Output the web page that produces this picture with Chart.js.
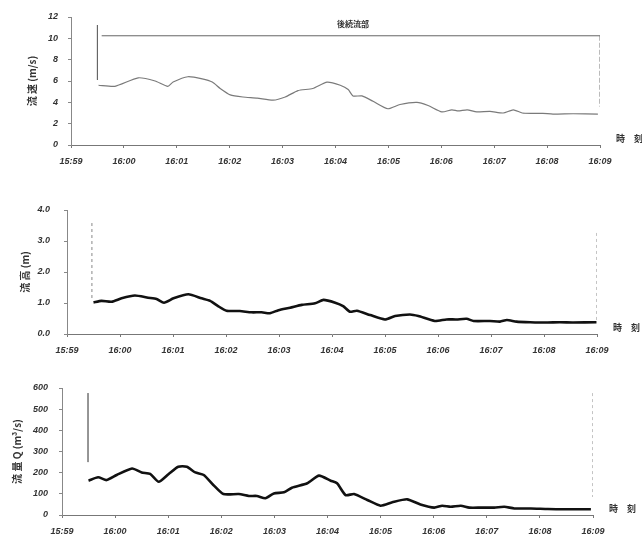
<!DOCTYPE html>
<html><head><meta charset="utf-8">
<script src="https://cdn.jsdelivr.net/npm/chart.js@4.4.1/dist/chart.umd.min.js"></script>
<style>
html,body{margin:0;padding:0;background:#fff;overflow:hidden;width:642px;height:538px}
.p{position:absolute;left:0;width:642px}
</style></head><body>
<div class="p" style="top:0;height:168px"><canvas id="c1"></canvas></div>
<div class="p" style="top:190px;height:167px"><canvas id="c2"></canvas></div>
<div class="p" style="top:368px;height:170px"><canvas id="c3"></canvas></div>
<script>
// x values are minutes after 15:59
const xTickLabels = ['15:59','16:00','16:01','16:02','16:03','16:04','16:05','16:06','16:07','16:08','16:09'];

const velTimes  = [0.52,0.83,1.27,1.59,1.83,1.93,2.21,2.48,2.67,2.82,3.01,3.25,3.52,3.82,4.05,4.29,4.57,4.84,5.09,5.24,5.33,5.50,5.71,5.99,6.22,6.54,6.75,7.01,7.20,7.32,7.49,7.67,7.92,8.17,8.36,8.53,8.73,8.92,9.11,9.49,9.96];
const velValues = [5.6,5.5,6.3,6.0,5.5,5.9,6.4,6.2,5.9,5.3,4.7,4.5,4.4,4.2,4.5,5.1,5.3,5.9,5.6,5.2,4.6,4.6,4.1,3.4,3.8,4.0,3.7,3.1,3.3,3.2,3.3,3.1,3.15,3.0,3.3,3.0,2.97,2.97,2.9,2.93,2.9];

const hgtTimes  = [0.50,0.65,0.84,1.03,1.28,1.53,1.69,1.83,2.01,2.29,2.54,2.70,2.85,3.01,3.26,3.48,3.67,3.83,3.99,4.21,4.43,4.68,4.84,5.06,5.21,5.34,5.47,5.72,6.00,6.19,6.47,6.63,6.94,7.16,7.35,7.54,7.67,7.98,8.17,8.30,8.48,8.74,9.05,9.30,9.55,9.99];
const hgtValues = [1.02,1.07,1.04,1.15,1.24,1.17,1.13,1.01,1.15,1.28,1.15,1.07,0.90,0.75,0.74,0.70,0.70,0.67,0.77,0.85,0.94,0.99,1.10,1.01,0.90,0.72,0.75,0.61,0.47,0.58,0.63,0.58,0.42,0.47,0.47,0.49,0.42,0.42,0.40,0.45,0.40,0.38,0.37,0.38,0.37,0.38];

const qTimes  = [0.50,0.68,0.84,1.03,1.32,1.50,1.66,1.82,2.01,2.19,2.35,2.51,2.67,2.85,3.04,3.33,3.52,3.67,3.83,3.99,4.18,4.33,4.62,4.84,5.06,5.18,5.34,5.50,5.75,6.00,6.22,6.50,6.75,7.01,7.16,7.32,7.51,7.67,7.89,8.14,8.33,8.52,8.83,9.15,9.46,9.96];
const qValues = [162,178,165,189,220,201,194,157,194,228,228,201,189,142,99,99,90,90,79,102,107,129,150,186,162,150,94,99,71,44,60,74,50,35,44,39,44,35,35,35,39,31,31,28,27,27];

// reference lines (time, value) pairs
const velLeftLine  = [[0.50,11.25],[0.50,6.1]];
const velRangeLine = [[0.58,10.24],[10,10.24]];
const velRightLine = [[10,10.24],[10,3.6]];
const hgtLeftLine  = [[0.47,3.58],[0.47,1.10]];
const hgtRightLine = [[10,3.26],[10,0.45]];
const qLeftLine    = [[0.49,576],[0.49,250]];
const qRightLine   = [[10,576],[10,85]];

const rangeLabel = '後続流部';
const rangeLabelPos = [5.33, 11.35];
const timeAxisLabel = '時　刻';

const tickFont = {family:'Liberation Sans', style:'italic', weight:'bold', size:9};
const pts = (xs, ys) => xs.map((x,i)=>({x, y: ys[i]}));
const pairPts = arr => arr.map(p=>({x:p[0], y:p[1]}));

function refDs(arr, dash, color){
  return {data: pairPts(arr), showLine:true, pointRadius:0, borderColor:color||'#777', borderWidth:1, borderDash:dash||[], tension:0};
}

const extraText = {
  id:'extraText',
  afterDraw(chart, args, opts){
    const {ctx, chartArea, scales} = chart;
    ctx.save();
    ctx.fillStyle = '#333';
    ctx.font = 'bold 9px "Noto Sans CJK JP"';
    ctx.textBaseline = 'middle';
    ctx.textAlign = 'left';
    ctx.fillText(timeAxisLabel, chartArea.right + 16, chartArea.bottom - 6);
    if (opts.label) {
      ctx.textAlign = 'center';
      ctx.font = 'bold 8px "Noto Sans CJK JP"';
      ctx.fillText(opts.label, scales.x.getPixelForValue(opts.pos[0]), scales.y.getPixelForValue(opts.pos[1]));
    }
    ctx.restore();
  }
};

function makeChart(id, o){
  return new Chart(document.getElementById(id), {
    type:'scatter',
    data:{datasets:[
      {data:o.series, showLine:true, pointRadius:0, borderColor:o.color, borderWidth:o.width, tension:0.2, borderJoinStyle:'round'},
      ...o.refs
    ]},
    options:{
      responsive:true, maintainAspectRatio:false, animation:false,
      layout:{padding:{top:o.padTop, right:o.padRight, left:0, bottom:0}},
      plugins:{legend:{display:false}, tooltip:{enabled:false}, extraText:{label:o.label, pos:o.labelPos}},
      scales:{
        x:{type:'linear', min:0, max:10,
          afterFit(s){ s.height = 23; },
          ticks:{stepSize:1, autoSkip:false, maxRotation:0, padding:8, font:tickFont, color:'#333',
            callback:v=>xTickLabels[v]},
          grid:{display:true, drawOnChartArea:false, tickLength:3, color:'#777'},
          border:{color:'#777', width:1}
        },
        y:{min:o.yMin, max:o.yMax,
          afterFit(s){ s.width = o.axisW; },
          ticks:{stepSize:o.step, padding:o.tickPad, font:tickFont, color:'#333', callback:o.fmt},
          grid:{display:true, drawOnChartArea:false, tickLength:3, color:'#888'},
          border:{color:'#888', width:1, dash:o.yDash||[]},
          title:{display:true, text:o.title, color:'#333', padding:{top:o.titlePad, bottom:0},
            font:{family:'Noto Sans CJK JP', weight:'bold', size:10}}
        }
      }
    },
    plugins:[extraText]
  });
}

makeChart('c1', {
  series:pts(velTimes, velValues), color:'#7a7a7a', width:1.2,
  refs:[refDs(velLeftLine,[],'#666'), refDs(velRangeLine,[],'#666'), refDs(velRightLine,[5,2],'#777')],
  yMin:0, yMax:12, step:2, fmt:v=>String(v), title:'流 速 (m/s)', titlePad:26,
  axisW:71, padTop:17, padRight:42, tickPad:10, label:rangeLabel, labelPos:rangeLabelPos
});
makeChart('c2', {
  series:pts(hgtTimes, hgtValues), color:'#111', width:2.6,
  refs:[refDs(hgtLeftLine,[3,3],'#888'), refDs(hgtRightLine,[3,3],'#888')],
  yMin:0, yMax:4, step:1, fmt:v=>v.toFixed(1), title:'流 高 (m)', titlePad:19,
  axisW:67, padTop:20, padRight:45, tickPad:14, yDash:[4,2]
});
makeChart('c3', {
  series:pts(qTimes, qValues), color:'#111', width:2.6,
  refs:[refDs(qLeftLine,[],'#888'), refDs(qRightLine,[3,3],'#888')],
  yMin:0, yMax:600, step:100, fmt:v=>String(v), title:'流 量 Q (m³/s)', titlePad:11,
  axisW:62, padTop:20, padRight:49, tickPad:11, yDash:[4,2]
});
</script>
</body></html>
